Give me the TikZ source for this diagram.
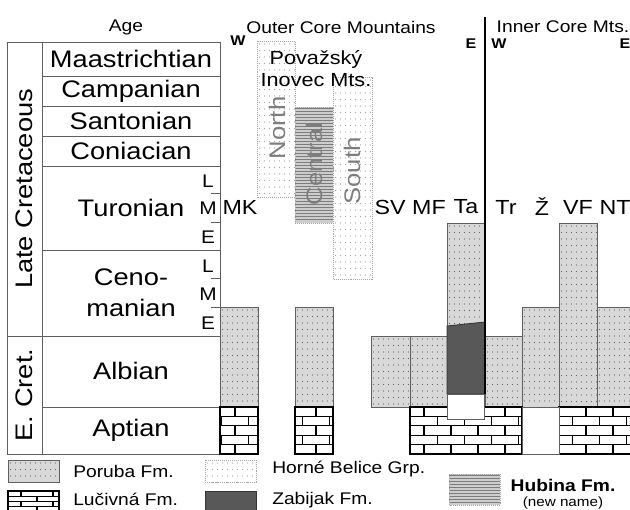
\documentclass[tikz,border=0pt]{standalone}
\usepackage{fontspec}
\setmainfont{Liberation Sans}[FakeStretch=1.14]
\usepackage{tikz}
\definecolor{PorubaFill}{RGB}{216,216,216}
\definecolor{PorubaDot}{RGB}{105,105,105}
\definecolor{BeliceDot}{RGB}{165,165,165}
\definecolor{HubinaFill}{RGB}{205,205,205}
\definecolor{HubinaLine}{RGB}{125,125,125}
\definecolor{ZabiakFill}{RGB}{88,88,88}
\definecolor{RuleGray}{RGB}{95,95,95}
\definecolor{NameGray}{RGB}{125,125,125}

% dot grid inside a rectangle
\newcommand{\fmdots}[5]{%
  \begin{scope}
    \clip (#1,#2) rectangle (#3,#4);
    \pgfmathtruncatemacro{\nx}{(#3-#1)/5}
    \pgfmathtruncatemacro{\ny}{(#4-#2)/6.5}
    \foreach \i in {0,...,\nx}
      \foreach \j in {0,...,\ny}
        \fill[#5] ({#1+2.5+\i*5},{#2+3+\j*6.5}) circle (0.5pt);
  \end{scope}}
\newcommand{\porubafill}[4]{%
  \fill[PorubaFill] (#1,#2) rectangle (#3,#4);
  \fmdots{#1}{#2}{#3}{#4}{PorubaDot}}
\newcommand{\belicefill}[4]{%
  \fill[white] (#1,#2) rectangle (#3,#4);
  \fmdots{#1}{#2}{#3}{#4}{BeliceDot}
  \draw[beliceedge] (#1,#2) rectangle (#3,#4);}
\newcommand{\hubinafill}[4]{%
  \fill[HubinaFill] (#1,#2) rectangle (#3,#4);
  \pgfmathtruncatemacro{\nl}{(#4-#2)/3}
  \foreach \l in {1,...,\nl}
    \draw[HubinaLine, line width=0.5pt] (#1,{#2+\l*3-1.5}) -- (#3,{#2+\l*3-1.5});
  \draw[beliceedge] (#1,#2) rectangle (#3,#4);}
% limestone bricks: region, row height, brick length, x origin
\newcommand{\lucivnafill}[7]{%
  \begin{scope}
    \clip (#1,#2) rectangle (#3,#4);
    \fill[white] (#1,#2) rectangle (#3,#4);
    \pgfmathtruncatemacro{\nr}{(#4-#2)/#5}
    \foreach \r in {0,...,\nr}{
      \pgfmathsetmacro{\ya}{#2+\r*#5}
      \pgfmathsetmacro{\yb}{\ya+#5}
      \pgfmathsetmacro{\xs}{#7+mod(\r,2)*#6/2}
      \draw[limeline] (#1,\ya) -- (#3,\ya);
      \foreach \k in {-12,...,16}
        \draw[limeline] ({\xs+\k*#6},\ya) -- ({\xs+\k*#6},\yb);
    }
  \end{scope}
  \draw[limeline] (#1,#2) rectangle (#3,#4);}

\begin{document}
\begin{tikzpicture}[
    x=0.025cm, y=-0.025cm,
    scaleline/.style={draw=RuleGray, line width=0.7pt},
    colline/.style={draw=RuleGray, line width=0.6pt},
    limeline/.style={black, line width=0.9pt},
    beliceedge/.style={draw=BeliceDot, line width=0.5pt, dash pattern=on 0.6pt off 0.8pt},
    stage/.style={font=\fontsize{17}{22}\selectfont, align=center},
    header/.style={font=\fontsize{12}{13}\selectfont},
    section/.style={font=\fontsize{14.5}{15}\selectfont},
    substage/.style={font=\fontsize{13}{14}\selectfont, inner sep=0pt},
    compass/.style={font=\bfseries\fontsize{10}{10}\selectfont, inner sep=0pt},
    epoch/.style={font=\fontsize{17}{18}\selectfont, rotate=90},
    area/.style={font=\fontsize{16}{17}\selectfont, text=NameGray, rotate=90},
    legend/.style={font=\fontsize{12}{13}\selectfont, anchor=west, inner sep=0pt}
]
\useasboundingbox (0,0) rectangle (630,510);

% time scale
\draw[scaleline] (7,42) rectangle (220,454);
\draw[scaleline] (42,42) -- (42,454);
\foreach \yy in {76,106,136,166,250,407}
    \draw[scaleline] (42,\yy) -- (220,\yy);
\draw[scaleline] (7,336) -- (220,336);
\foreach \yy in {193,222,278,307}
    \draw[scaleline] (211,\yy) -- (220,\yy);

\node[header] (age) at (126,27) {Age};
\node[epoch] (latecret) at (24,189) {Late Cretaceous};
\node[epoch] (earlycret) at (24,395) {E. Cret.};

\node[stage] (maas) at (131,59) {Maastrichtian};
\node[stage] (camp) at (131,91) {Campanian};
\node[stage] (sant) at (131,121) {Santonian};
\node[stage] (coni) at (131,151) {Coniacian};
\node[stage] (turo) at (131,208) {Turonian};
\node[stage] (ceno) at (131,293) {Ceno-\\manian};
\node[stage] (albi) at (131,371) {Albian};
\node[stage] (apti) at (131,430) {Aptian};

\node[substage] (turoL) at (208,181) {L};
\node[substage] (turoM) at (208,208) {M};
\node[substage] (turoE) at (208,237) {E};
\node[substage] (cenoL) at (208,266) {L};
\node[substage] (cenoM) at (208,294) {M};
\node[substage] (cenoE) at (208,323) {E};

% Považský Inovec
\belicefill{257}{41}{295}{197}
\belicefill{333}{77}{372}{279}
\hubinafill{295}{107}{333}{223}
\node[area] (north) at (277,128) {North};
\node[area] (central) at (314,164) {Central};
\node[area] (south) at (352,171) {South};
\node[font=\fontsize{13.5}{15.6}\selectfont, align=center] (inovec) at (316,69) {Považský\\Inovec Mts.};

% Poruba Fm.
\porubafill{220}{307}{258}{407}
\porubafill{295}{307}{333}{407}
\porubafill{371}{336}{410}{407}
\porubafill{410}{336}{447}{407}
\porubafill{447}{223}{485}{330}
\porubafill{485}{336}{522}{407}
\porubafill{522}{307}{559}{407}
\porubafill{559}{223}{597}{407}
\porubafill{597}{307}{636}{407}
\foreach \xa/\ya/\xb in {220/307/258, 295/307/333, 371/336/410, 410/336/447,
        485/336/522, 522/307/559, 559/223/597, 597/307/636}
    \draw[colline] (\xa,\ya) rectangle (\xb,407);
\draw[colline] (447,326) -- (447,223) -- (485,223) -- (485,322);

% Lučivná Fm.
\lucivnafill{220}{407}{258}{454}{9.4}{27}{208}
\lucivnafill{295}{407}{333}{454}{9.4}{27}{208}
\lucivnafill{410}{407}{522}{454}{9.4}{27}{208}
\lucivnafill{559}{407}{636}{454}{9.4}{27}{208}
\draw[colline, fill=white] (522,407) rectangle (559,454);

% Zabiják Fm. in Ta
\filldraw[fill=ZabiakFill, draw=black!80, line width=0.6pt]
    (447,326) -- (485,322) -- (485,394) -- (447,394) -- cycle;
\draw[colline, fill=white] (447,394) rectangle (484,419);

\draw[black, line width=1.4pt] (485,17) -- (485,394);

% regions
\node[header] (outer) at (341,27) {Outer Core Mountains};
\node[header] (inner) at (563,27) {Inner Core Mts.};
\node[compass] (outerW) at (238,41) {W};
\node[compass] (outerE) at (471,44) {E};
\node[compass] (innerW) at (499,44) {W};
\node[compass] (innerE) at (625,44) {E};

\node[section] (mk) at (240,207) {MK};
\node[section] (sv) at (390,207) {SV};
\node[section] (mf) at (429,207) {MF};
\node[section] (ta) at (466,207) {Ta};
\node[section] (tr) at (506,207) {Tr};
\node[section] (zh) at (542,207) {Ž};
\node[section] (vf) at (578,207) {VF};
\node[section] (nt) at (615,207) {NT};

% legend
\porubafill{8}{460}{59}{482}
\draw[colline] (8,460) rectangle (59,482);
\node[legend] (porubatxt) at (73,471) {Poruba Fm.};
\belicefill{205}{460}{256}{482}
\node[legend] (belicetxt) at (272,469) {Horné Belice Grp.};
\lucivnafill{8}{491}{59}{516}{5.2}{32}{21}
\node[legend] (lucivnatxt) at (73,499) {Lučivná Fm.};
\filldraw[fill=ZabiakFill, draw=black!80, line width=0.6pt] (205,491) rectangle (256,516);
\node[legend] (zabiaktxt) at (272,500) {Zabijak Fm.};
\hubinafill{449}{474}{500}{505}
\node[font=\bfseries\fontsize{12}{13}\selectfont] (hubinatxt) at (563,485) {Hubina Fm.};
\node[font=\fontsize{9.5}{10}\selectfont] (hubinanew) at (563,503) {(new name)};

\end{tikzpicture}
\end{document}
